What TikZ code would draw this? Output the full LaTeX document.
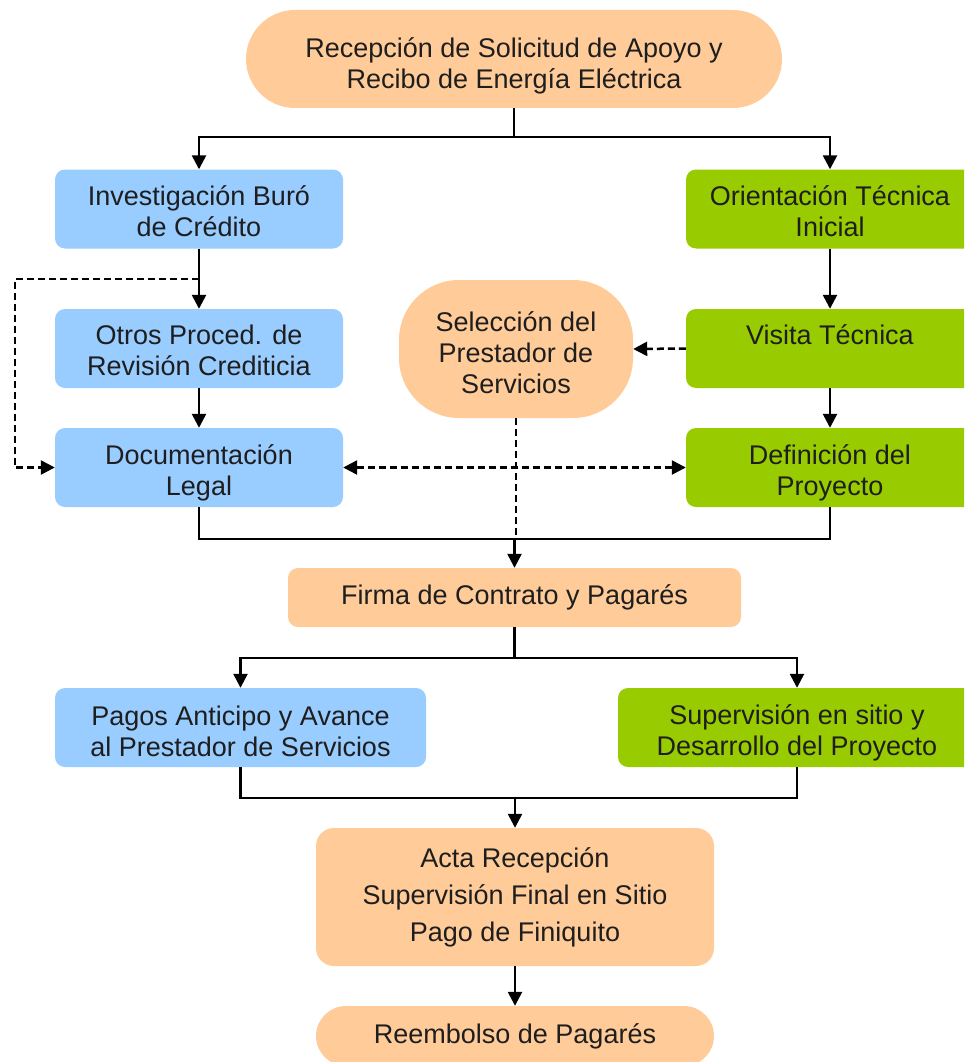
\documentclass[tikz,border=0pt]{standalone}
\usepackage{fontspec}
\setmainfont{Liberation Sans}
\usetikzlibrary{arrows.meta,calc}
\definecolor{peach}{HTML}{FFCC99}
\definecolor{skyblue}{HTML}{99CCFF}
\definecolor{leafgreen}{HTML}{99CC00}
\definecolor{inkgray}{HTML}{1E1E1E}
\newcommand{\lowtext}[1]{\mbox{}\\[#1]}
\tikzset{
    box/.style={rounded corners=10pt, minimum height=79pt, align=center, text=inkgray,
        font=\fontsize{27}{31}\selectfont, inner sep=0pt},
    bluebox/.style={box, fill=skyblue, minimum width=288pt},
    greenbox/.style={box, fill=leafgreen, minimum width=288pt},
    peachbox/.style={box, fill=peach},
    tip/.style={-{Triangle[length=14pt,width=14pt]}},
    arr/.style={tip, line width=2.5pt},
    link/.style={line width=2.5pt},
    dsh/.style={line width=2.5pt, dash pattern=on 7pt off 4pt}
}
\begin{document}
\begin{tikzpicture}[x=1pt,y=-1pt]
    \clip (0,0) rectangle (964,1062);
    \fill[white] (0,0) rectangle (964,1062);

    % Start
    \node[peachbox, minimum width=536pt, minimum height=98pt, rounded corners=49pt] (recep) at (514,59)
        {\lowtext{3pt}Recepción de Solicitud de Apoyo y\\Recibo de Energía Eléctrica};

    % Credit side
    \node[bluebox] (invest) at (199,209) {\lowtext{-7pt}Investigación Buró\\de Crédito};
    \node[bluebox] (otros) at (199,348.5) {\lowtext{-7pt}Otros Proced. de\\Revisión Crediticia};
    \node[bluebox] (doc) at (199,467.5) {\lowtext{0pt}Documentación\\Legal};

    % Technical side
    \node[greenbox] (orient) at (830,209) {\lowtext{-7pt}Orientación Técnica\\Inicial};
    \node[greenbox] (visita) at (830,348.5) {Visita Técnica\\[-4pt]\mbox{}};
    \node[greenbox] (defin) at (830,467.5) {\lowtext{0pt}Definición del\\Proyecto};

    % Provider
    \node[peachbox, minimum width=234pt, minimum height=138pt, rounded corners=60pt] (selec) at (516,349)
        {\lowtext{-4pt}Selección del\\Prestador de\\Servicios};

    % Contract and execution
    \node[peachbox, minimum width=453pt, minimum height=59pt] (firma) at (514.5,597.5) {Firma de Contrato y Pagarés};
    \node[bluebox, minimum width=371pt] (pagos) at (240.5,727.5) {\lowtext{-3pt}Pagos Anticipo y Avance\\al Prestador de Servicios};
    \node[greenbox, minimum width=358pt] (superv) at (797,727.5) {\lowtext{0pt}Supervisión en sitio y\\Desarrollo del Proyecto};

    % Closing
    \node[peachbox, minimum width=398pt, minimum height=138pt, rounded corners=18pt,
        font=\fontsize{27}{37}\selectfont] (acta) at (515,897)
        {Acta Recepción\\Supervisión Final en Sitio\\Pago de Finiquito};
    \node[peachbox, minimum width=398pt, minimum height=60pt, rounded corners=30pt] (reemb) at (515,1036)
        {Reembolso de Pagarés};

    % Connectors
    \coordinate (j1) at ($(recep.south)+(0,29)$);
    \draw[link] (recep.south) -- (j1);
    \draw[arr] (j1) -| (invest.north);
    \draw[arr] (j1) -| (orient.north);
    \draw[arr] (invest) -- (otros);
    \draw[arr] (otros) -- (doc);
    \draw[arr] (orient) -- (visita);
    \draw[arr] (visita) -- (defin);

    \coordinate (d1) at ($(invest.south)!0.5!(otros.north)$);
    \draw[dsh, tip] (d1) -- ++(-184,0) |- (doc.west);
    \draw[dsh, tip] (visita.west) -- (selec.east);
    \draw[dsh, {Triangle[length=14pt,width=14pt]}-{Triangle[length=14pt,width=14pt]}] (doc.east) -- (defin.west);

    \coordinate (j2) at (firma.north |- 0,539);
    \draw[link] (doc.south) |- (j2) -| (defin.south);
    \draw[dsh] (selec.south) -- (selec.south |- j2);
    \draw[arr] (j2) -- (firma.north);

    \coordinate (j3) at (firma.south |- 0,658);
    \draw[link] (firma.south) -- (j3);
    \draw[arr] (j3) -| (pagos.north);
    \draw[arr] (j3) -| (superv.north);

    \coordinate (j4) at (acta.north |- 0,798);
    \draw[link] (pagos.south) |- (j4) -| (superv.south);
    \draw[arr] (j4) -- (acta.north);
    \draw[arr] (acta) -- (reemb);
\end{tikzpicture}
\end{document}
